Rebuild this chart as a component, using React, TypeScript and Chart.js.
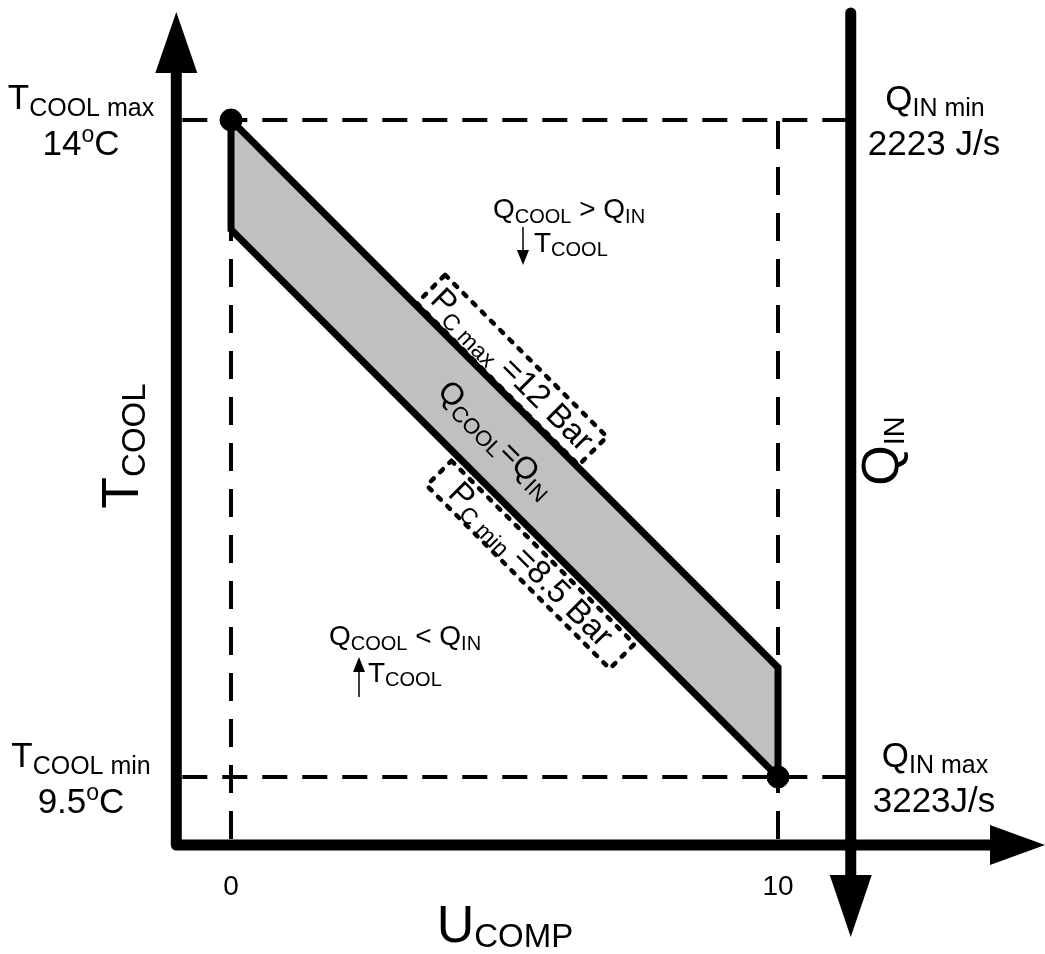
import React, { useEffect, useRef } from "react";
import { Chart, registerables } from "chart.js";

Chart.register(...registerables);

// ---- data ----
const uCompRange = [0, 10]; // U_COMP at left / right bound
const pcMaxLineT = [14, 10.25]; // T_COOL along P_C max = 12 Bar boundary
const pcMinLineT = [13.25, 9.5]; // T_COOL along P_C min = 8.5 Bar boundary
const tCoolLimits = [14, 9.5]; // T_COOL max, T_COOL min
const xTickLabels = ["0", "10"];

// axis positions in data units (layout)
const AXIS_X_LEFT = -1.0;
const AXIS_X_RIGHT = 11.33;
const AXIS_T_BOTTOM = 9.034;

const FONT = '"Liberation Sans", Arial, Helvetica, sans-serif';
type Run = { t: string; s: number; dy?: number };

function f(s: number) {
  return `${s}px ${FONT}`;
}
function runsWidth(ctx: CanvasRenderingContext2D, runs: Run[]) {
  let w = 0;
  for (const r of runs) {
    ctx.font = f(r.s);
    w += ctx.measureText(r.t).width;
  }
  return w;
}
function drawRuns(
  ctx: CanvasRenderingContext2D,
  runs: Run[],
  x: number,
  y: number,
  align: "left" | "center" = "center"
) {
  const w = runsWidth(ctx, runs);
  let cx = align === "center" ? x - w / 2 : x;
  ctx.textAlign = "left";
  ctx.textBaseline = "alphabetic";
  ctx.fillStyle = "#000";
  for (const r of runs) {
    ctx.font = f(r.s);
    ctx.fillText(r.t, cx, y + (r.dy || 0));
    cx += ctx.measureText(r.t).width;
  }
}
function drawRotatedRuns(
  ctx: CanvasRenderingContext2D,
  runs: Run[],
  x: number,
  y: number,
  angle: number,
  baseShift: number
) {
  ctx.save();
  ctx.translate(x, y);
  ctx.rotate(angle);
  drawRuns(ctx, runs, 0, baseShift, "center");
  ctx.restore();
}
function tri(ctx: CanvasRenderingContext2D, pts: number[][]) {
  ctx.beginPath();
  ctx.moveTo(pts[0][0], pts[0][1]);
  ctx.lineTo(pts[1][0], pts[1][1]);
  ctx.lineTo(pts[2][0], pts[2][1]);
  ctx.closePath();
  ctx.fill();
}

const decorPlugin = {
  id: "decor",
  afterDatasetsDraw(chart: any) {
    const ctx: CanvasRenderingContext2D = chart.ctx;
    const xs = chart.scales.x;
    const ys = chart.scales.y;
    const px = (v: number) => xs.getPixelForValue(v);
    const py = (v: number) => ys.getPixelForValue(v);
    ctx.save();
    ctx.fillStyle = "#000";
    ctx.strokeStyle = "#000";

    // ---- axes ----
    const aL = px(AXIS_X_LEFT);
    const aR = px(AXIS_X_RIGHT);
    const aB = py(AXIS_T_BOTTOM);
    ctx.lineWidth = 11;
    ctx.lineJoin = "round";
    ctx.lineCap = "butt";
    ctx.beginPath();
    ctx.moveTo(aL, 70);
    ctx.lineTo(aL, aB);
    ctx.lineTo(992, aB);
    ctx.stroke();
    tri(ctx, [
      [aL, 12],
      [aL - 21, 73],
      [aL + 21, 73],
    ]);
    tri(ctx, [
      [1045, aB],
      [990, aB - 20],
      [990, aB + 20],
    ]);
    ctx.lineCap = "round";
    ctx.beginPath();
    ctx.moveTo(aR, 13);
    ctx.lineTo(aR, 876);
    ctx.stroke();
    tri(ctx, [
      [aR, 937],
      [aR - 21, 875],
      [aR + 21, 875],
    ]);

    // ---- band geometry ----
    const U0 = [px(uCompRange[0]), py(pcMaxLineT[0])];
    const U1 = [px(uCompRange[1]), py(pcMaxLineT[1])];
    const L0 = [px(uCompRange[0]), py(pcMinLineT[0])];
    const L1 = [px(uCompRange[1]), py(pcMinLineT[1])];
    const dxu = U1[0] - U0[0];
    const dyu = U1[1] - U0[1];
    const len = Math.hypot(dxu, dyu);
    const d = [dxu / len, dyu / len];
    const nUp = [d[1], -d[0]];
    const angle = Math.atan2(d[1], d[0]);
    const at = (A: number[], B: number[], t: number, off: number) => [
      A[0] + (B[0] - A[0]) * t + nUp[0] * off,
      A[1] + (B[1] - A[1]) * t + nUp[1] * off,
    ];

    // dashed boxes
    const box = (c: number[], l: number, w: number) => {
      ctx.save();
      ctx.translate(c[0], c[1]);
      ctx.rotate(angle);
      ctx.lineWidth = 4.5;
      ctx.lineCap = "round";
      ctx.setLineDash([4, 9]);
      ctx.beginPath();
      ctx.rect(-l / 2, -w / 2, l, w);
      ctx.stroke();
      ctx.restore();
    };
    const cUp = at(U0, U1, 0.485, 22);
    const cLo = at(L0, L1, 0.58, -25);
    box(cUp, 229, 40);
    box(cLo, 259, 35);

    drawRotatedRuns(
      ctx,
      [
        { t: "P", s: 33 },
        { t: "C max", s: 23, dy: 7 },
        { t: " =12 Bar", s: 33 },
      ],
      cUp[0],
      cUp[1],
      angle,
      10
    );
    drawRotatedRuns(
      ctx,
      [
        { t: "P", s: 33 },
        { t: "C min", s: 23, dy: 7 },
        { t: " =8.5 Bar", s: 33 },
      ],
      cLo[0],
      cLo[1],
      angle,
      10
    );
    const bandU = at(U0, U1, 0.484, 0);
    const bandL = at(L0, L1, 0.484, 0);
    drawRotatedRuns(
      ctx,
      [
        { t: "Q", s: 31 },
        { t: "COOL", s: 22, dy: 6 },
        { t: "=Q", s: 31 },
        { t: "IN", s: 22, dy: 6 },
      ],
      (bandU[0] + bandL[0]) / 2,
      (bandU[1] + bandL[1]) / 2,
      angle,
      9
    );

    // ---- side labels ----
    drawRuns(ctx, [{ t: "T", s: 35 }, { t: "COOL max", s: 25, dy: 7 }], 81, 109);
    drawRuns(ctx, [{ t: "14", s: 35 }, { t: "o", s: 23, dy: -13 }, { t: "C", s: 35 }], 81, 155);
    drawRuns(ctx, [{ t: "T", s: 35 }, { t: "COOL min", s: 25, dy: 7 }], 81, 767);
    drawRuns(ctx, [{ t: "9.5", s: 35 }, { t: "o", s: 23, dy: -13 }, { t: "C", s: 35 }], 81, 813);
    drawRuns(ctx, [{ t: "Q", s: 35 }, { t: "IN min", s: 25, dy: 6 }], 935, 110);
    drawRuns(ctx, [{ t: "2223 J/s", s: 35 }], 934, 155);
    drawRuns(ctx, [{ t: "Q", s: 35 }, { t: "IN max", s: 25, dy: 6 }], 935, 767);
    drawRuns(ctx, [{ t: "3223J/s", s: 35 }], 934, 812);

    // x tick labels
    xTickLabels.forEach((lab, i) => {
      drawRuns(ctx, [{ t: lab, s: 28 }], px(uCompRange[i]), 895);
    });

    // axis titles
    drawRuns(ctx, [{ t: "U", s: 52 }, { t: "COMP", s: 33, dy: 5 }], 505, 942);
    drawRotatedRuns(ctx, [{ t: "T", s: 52 }, { t: "COOL", s: 33, dy: 7 }], 138, 446, -Math.PI / 2, 0);
    drawRotatedRuns(ctx, [{ t: "Q", s: 52 }, { t: "IN", s: 29, dy: 6 }], 898, 451, -Math.PI / 2, 0);

    // region annotations
    drawRuns(
      ctx,
      [
        { t: "Q", s: 28 },
        { t: "COOL", s: 20, dy: 5 },
        { t: " > Q", s: 28 },
        { t: "IN", s: 20, dy: 5 },
      ],
      569,
      218
    );
    drawRuns(ctx, [{ t: "T", s: 28 }, { t: "COOL", s: 20, dy: 4 }], 534, 252, "left");
    drawRuns(
      ctx,
      [
        { t: "Q", s: 28 },
        { t: "COOL", s: 20, dy: 5 },
        { t: " < Q", s: 28 },
        { t: "IN", s: 20, dy: 5 },
      ],
      405,
      645
    );
    drawRuns(ctx, [{ t: "T", s: 28 }, { t: "COOL", s: 20, dy: 4 }], 368, 682, "left");

    // small arrows
    ctx.lineWidth = 1.5;
    ctx.lineCap = "butt";
    ctx.setLineDash([]);
    ctx.beginPath();
    ctx.moveTo(523, 227);
    ctx.lineTo(523, 252);
    ctx.stroke();
    tri(ctx, [
      [517, 250],
      [529, 250],
      [523, 265],
    ]);
    ctx.beginPath();
    ctx.moveTo(359, 670);
    ctx.lineTo(359, 697);
    ctx.stroke();
    tri(ctx, [
      [359, 657],
      [353, 672],
      [365, 672],
    ]);

    ctx.restore();
  },
};

export default function App() {
  const ref = useRef<HTMLCanvasElement>(null);
  useEffect(() => {
    const [x0, x1] = uCompRange;
    const [tMax, tMin] = tCoolLimits;
    const dashed = (pts: { x: number; y: number }[], dash: number[]) => ({
      data: pts,
      showLine: true,
      borderColor: "#000",
      borderWidth: 4,
      borderDash: dash,
      borderDashOffset: -6,
      borderCapStyle: "butt",
      pointRadius: 0,
      fill: false,
      clip: false,
    });
    const chart = new Chart(ref.current!, {
      type: "scatter",
      data: {
        datasets: [
          {
            data: [
              { x: x0, y: tMax },
              { x: x1, y: tMin },
            ],
            pointRadius: 11,
            pointBackgroundColor: "#000",
            pointBorderColor: "#000",
            pointBorderWidth: 1,
            showLine: false,
            clip: false,
          } as any,
          {
            data: [
              { x: x0, y: pcMaxLineT[0] },
              { x: x1, y: pcMaxLineT[1] },
              { x: x1, y: pcMinLineT[1] },
              { x: x0, y: pcMinLineT[0] },
              { x: x0, y: pcMaxLineT[0] },
            ],
            showLine: true,
            borderColor: "#000",
            borderWidth: 7,
            borderJoinStyle: "miter",
            pointRadius: 0,
            fill: false,
            clip: false,
          },
          {
            data: [
              { x: x0, y: pcMaxLineT[0] },
              { x: x1, y: pcMaxLineT[1] },
            ],
            showLine: true,
            borderColor: "rgba(0,0,0,0)",
            borderWidth: 1,
            backgroundColor: "#c0c0c0",
            pointRadius: 0,
            fill: "+1",
            clip: false,
          },
          {
            data: [
              { x: x0, y: pcMinLineT[0] },
              { x: x1, y: pcMinLineT[1] },
            ],
            showLine: true,
            borderColor: "rgba(0,0,0,0)",
            borderWidth: 1,
            pointRadius: 0,
            fill: false,
            clip: false,
          },
          dashed(
            [
              { x: AXIS_X_LEFT, y: tMax },
              { x: AXIS_X_RIGHT, y: tMax },
            ],
            [25, 15]
          ),
          dashed(
            [
              { x: AXIS_X_LEFT, y: tMin },
              { x: AXIS_X_RIGHT, y: tMin },
            ],
            [25, 15]
          ),
          dashed(
            [
              { x: x0, y: AXIS_T_BOTTOM },
              { x: x0, y: tMax },
            ],
            [28, 18]
          ),
          dashed(
            [
              { x: x1, y: AXIS_T_BOTTOM },
              { x: x1, y: tMax },
            ],
            [28, 18]
          ),
        ] as any,
      },
      options: {
        animation: false,
        responsive: false,
        devicePixelRatio: 1,
        layout: { padding: { left: 231, right: 267, top: 120, bottom: 177 } },
        scales: {
          x: { type: "linear", min: 0, max: 10, display: false },
          y: { type: "linear", min: 9.5, max: 14, display: false },
        },
        plugins: {
          legend: { display: false },
          tooltip: { enabled: false },
          title: { display: false },
        },
        events: [],
      } as any,
      plugins: [decorPlugin],
    });
    return () => chart.destroy();
  }, []);
  return (
    <div
      style={{
        position: "absolute",
        left: 0,
        top: 0,
        width: 1045,
        height: 954,
        background: "#fff",
      }}
    >
      <canvas ref={ref} width={1045} height={954} style={{ display: "block" }} />
    </div>
  );
}
